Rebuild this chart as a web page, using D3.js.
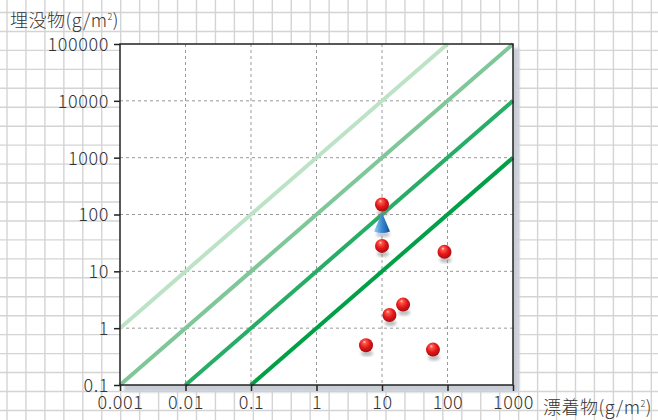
<!DOCTYPE html>
<html>
<head>
<meta charset="utf-8">
<script src="https://cdn.jsdelivr.net/npm/d3@7"></script>
<style>
  body { margin: 0; background: #fff; }
  text { font-family: "Noto Sans CJK JP", "Noto Sans", sans-serif; font-weight: 300; fill: #333; }
</style>
</head>
<body>
<div id="container"></div>
<script>
let width = 658;
let height = 420;
let margin = ({ top: 44, right: 145, bottom: 35, left: 120 });

// axis ticks
let xTicks = [0.001, 0.01, 0.1, 1, 10, 100, 1000];
let yTicks = [0.1, 1, 10, 100, 1000, 10000, 100000];

// ratio lines: buried = ratio * drifted
let ratios = [1000, 100, 10, 1];
let ratioColors = ["#bde3c7", "#7fc798", "#27ad66", "#00a046"];

// survey points
let drifted = [10, 10, 90, 13, 21, 5.7, 60];
let buried = [150, 28, 22, 1.7, 2.6, 0.5, 0.42];

// arrow from / to (drifted, buried)
let arrowFrom = [10, 50];
let arrowTo = [10, 108];

let svg = d3.select("#container").append("svg")
  .attr("width", width)
  .attr("height", height);

let defs = svg.append("defs");

let ball = defs.append("radialGradient").attr("id", "ball")
  .attr("cx", "45%").attr("cy", "40%").attr("r", "60%")
  .attr("fx", "38%").attr("fy", "25%");
ball.append("stop").attr("offset", "0%").attr("stop-color", "#ffe0dc");
ball.append("stop").attr("offset", "18%").attr("stop-color", "#ff5a4a");
ball.append("stop").attr("offset", "60%").attr("stop-color", "#e3161a");
ball.append("stop").attr("offset", "100%").attr("stop-color", "#a50d10");

let cone = defs.append("linearGradient").attr("id", "cone")
  .attr("x1", "0%").attr("x2", "100%");
cone.append("stop").attr("offset", "0%").attr("stop-color", "#9fd0f0");
cone.append("stop").attr("offset", "45%").attr("stop-color", "#3f8fd6");
cone.append("stop").attr("offset", "100%").attr("stop-color", "#0c4f99");

defs.append("filter").attr("id", "blur")
  .append("feGaussianBlur").attr("stdDeviation", 1.6);

// graph paper
let gridStep = 18.95;
let paper = svg.append("g");
paper.selectAll(".vx")
  .data(d3.range(7, width, gridStep))
  .enter().append("line")
  .attr("x1", d => d).attr("x2", d => d)
  .attr("y1", 0).attr("y2", height)
  .attr("stroke", "#d4d4d4").attr("stroke-width", 1.4);
paper.selectAll(".hy")
  .data(d3.range(12.5, height, gridStep))
  .enter().append("line")
  .attr("y1", d => d).attr("y2", d => d)
  .attr("x1", 0).attr("x2", width)
  .attr("stroke", "#d4d4d4").attr("stroke-width", 1.4);

let x = d3.scaleLog()
  .domain([0.001, 1000])
  .range([margin.left, width - margin.right]);

let y = d3.scaleLog()
  .domain([0.1, 100000])
  .range([height - margin.bottom, margin.top]);

let x0 = x.range()[0], x1 = x.range()[1];
let y0 = y.range()[1], y1 = y.range()[0];

// plot shadow + box
svg.append("rect")
  .attr("x", x0 + 4).attr("y", y0 + 4)
  .attr("width", x1 - x0 + 2).attr("height", y1 - y0 + 3)
  .attr("fill", "#c9ced6")
  .attr("filter", "url(#blur)");
svg.append("rect")
  .attr("x", x0).attr("y", y0)
  .attr("width", x1 - x0).attr("height", y1 - y0)
  .attr("fill", "#fff");

// dashed decade grid
let g = svg.append("g");
g.selectAll(".gx")
  .data(xTicks.slice(1, -1))
  .enter().append("line")
  .attr("x1", d => x(d)).attr("x2", d => x(d))
  .attr("y1", y0).attr("y2", y1)
  .attr("stroke", "#999").attr("stroke-width", 1)
  .attr("stroke-dasharray", "3,3");
g.selectAll(".gy")
  .data(yTicks.slice(1, -1))
  .enter().append("line")
  .attr("y1", d => y(d)).attr("y2", d => y(d))
  .attr("x1", x0).attr("x2", x1)
  .attr("stroke", "#999").attr("stroke-width", 1)
  .attr("stroke-dasharray", "3,3");

// ratio lines
let xd = x.domain(), yd = y.domain();
g.selectAll(".ratio")
  .data(ratios)
  .enter().append("line")
  .attr("x1", r => x(Math.max(xd[0], yd[0] / r)))
  .attr("y1", r => y(Math.max(xd[0], yd[0] / r) * r))
  .attr("x2", r => x(Math.min(xd[1], yd[1] / r)))
  .attr("y2", r => y(Math.min(xd[1], yd[1] / r) * r))
  .attr("stroke", (r, i) => ratioColors[i])
  .attr("stroke-width", 4);

// arrow (cone)
let ax = x(arrowFrom[0]);
let aBase = y(arrowFrom[1]);
let aTip = y(arrowTo[1]);
g.append("ellipse")
  .attr("cx", ax + 1).attr("cy", aBase + 3)
  .attr("rx", 7).attr("ry", 2.5)
  .attr("fill", "#999").attr("opacity", 0.6)
  .attr("filter", "url(#blur)");
g.append("path")
  .attr("d", `M${ax},${aTip} L${ax + 8},${aBase} Q${ax},${aBase + 3} ${ax - 8},${aBase} Z`)
  .attr("fill", "url(#cone)");

// points
let pts = drifted.map((d, i) => [d, buried[i]]);
g.selectAll(".shadow")
  .data(pts)
  .enter().append("ellipse")
  .attr("cx", d => x(d[0]) + 1)
  .attr("cy", d => y(d[1]) + 8)
  .attr("rx", 6).attr("ry", 3)
  .attr("fill", "#888").attr("opacity", 0.55)
  .attr("filter", "url(#blur)");
g.selectAll(".ball")
  .data(pts)
  .enter().append("circle")
  .attr("cx", d => x(d[0]))
  .attr("cy", d => y(d[1]))
  .attr("r", 7)
  .attr("fill", "url(#ball)");

// frame
svg.append("rect")
  .attr("x", x0).attr("y", y0)
  .attr("width", x1 - x0).attr("height", y1 - y0)
  .attr("fill", "none")
  .attr("stroke", "#222").attr("stroke-width", 1.5);

// axes
let fmt = d => String(d);
let xAxis = svg.append("g")
  .attr("transform", "translate(0," + y1 + ")")
  .call(d3.axisBottom(x).tickValues(xTicks).tickFormat(fmt).tickSize(6).tickPadding(5));
let yAxis = svg.append("g")
  .attr("transform", "translate(" + x0 + ",0)")
  .call(d3.axisLeft(y).tickValues(yTicks).tickFormat(fmt).tickSize(6).tickPadding(5));

[xAxis, yAxis].forEach(a => {
  a.select(".domain").remove();
  a.selectAll(".tick line").attr("stroke", "#222").attr("stroke-width", 1.5);
  a.selectAll(".tick text")
    .attr("font-size", 18)
    .attr("font-family", "'Noto Sans CJK JP', sans-serif")
    .attr("font-weight", 300)
    .attr("letter-spacing", 0.6)
    .attr("fill", "#333");
});
yAxis.selectAll(".tick text").attr("dy", "0.36em");

// axis titles
let yTitle = svg.append("text")
  .attr("x", 10).attr("y", 27)
  .attr("font-size", 18)
  .attr("letter-spacing", 0.5);
yTitle.append("tspan").text("埋没物(g/m");
yTitle.append("tspan").attr("font-size", 9).attr("dy", -7).text("2");
yTitle.append("tspan").attr("dy", 7).text(")");

let xTitle = svg.append("text")
  .attr("x", 543).attr("y", 414)
  .attr("font-size", 18)
  .attr("letter-spacing", 0.5);
xTitle.append("tspan").text("漂着物(g/m");
xTitle.append("tspan").attr("font-size", 9).attr("dy", -7).text("2");
xTitle.append("tspan").attr("dy", 7).text(")");
</script>
</body>
</html>
